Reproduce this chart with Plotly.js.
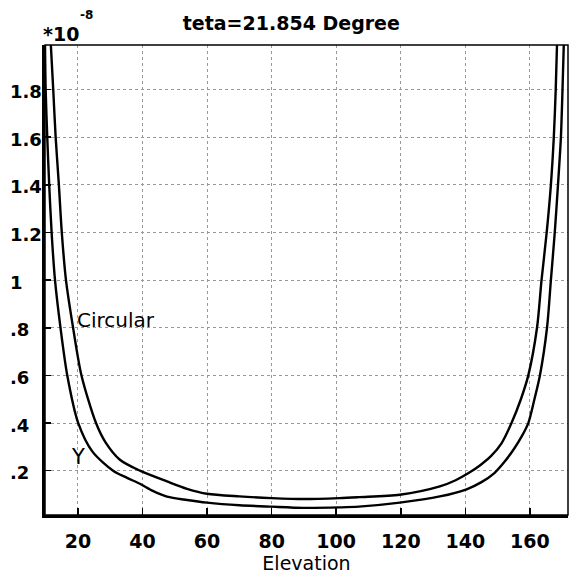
<!DOCTYPE html>
<html>
<head>
<meta charset="utf-8">
<script src="https://cdn.plot.ly/plotly-3.0.1.min.js"></script>
<style>html,body{margin:0;padding:0;background:#fff;}</style>
</head>
<body>
<div id="chart" style="width:569px;height:576px;"></div>
<script>
// Data (values in units of 1e-8)
const circularX = [11.6, 12.35, 13.1, 14.1, 15.0, 16.3, 18.5, 21.1, 25.6, 28.5, 33.0, 39.2, 47.6, 53.8, 60, 70, 80, 90, 101, 107, 119.7, 132.1, 137, 141, 144.5, 148, 151.2, 154.3, 157.2, 159.5, 162.2, 163.6, 165.2, 166.5, 167.4, 168.0, 168.4];
const circularY = [1.99, 1.8, 1.6, 1.4, 1.2, 1.0, 0.8, 0.6, 0.4, 0.32, 0.246, 0.2, 0.155, 0.124, 0.103, 0.092, 0.085, 0.081, 0.085, 0.089, 0.099, 0.134, 0.16, 0.19, 0.222, 0.262, 0.315, 0.4, 0.5, 0.6, 0.8, 1.0, 1.2, 1.4, 1.6, 1.8, 1.99];
const yPolX = [9.8, 10.0, 10.5, 11.1, 11.85, 12.9, 14.6, 16.7, 20.1, 24.5, 30.9, 35.2, 39.2, 43.2, 47.6, 53.8, 60, 70, 80, 90, 101, 107, 119.7, 132.1, 140.4, 145, 149, 152, 155, 157.5, 159.5, 161.4, 163.1, 165.3, 166.5, 167.7, 168.7, 169.6, 170.1, 170.5];
const yPolY = [1.99, 1.8, 1.6, 1.4, 1.2, 1.0, 0.8, 0.6, 0.4, 0.28, 0.2, 0.17, 0.145, 0.115, 0.091, 0.077, 0.066, 0.055, 0.049, 0.044, 0.046, 0.049, 0.066, 0.092, 0.122, 0.152, 0.19, 0.235, 0.29, 0.345, 0.4, 0.5, 0.6, 0.8, 1.0, 1.2, 1.4, 1.6, 1.8, 1.99];

const xTickVals = [20, 40, 60, 80, 100, 120, 140, 160];
const xTickText = ['20', '40', '60', '80', '100', '120', '140', '160'];
const yTickVals = [0.2, 0.4, 0.6, 0.8, 1.0, 1.2, 1.4, 1.6, 1.8];
const yTickText = ['.2', '.4', '.6', '.8', '1', '1.2', '1.4', '1.6', '1.8'];

const curveLabels = ['Circular', 'Y'];
const curveLabelX = [19.2, 20.0];
const curveLabelY = [0.833, 0.259];

const FONT = 'DejaVu Sans';
const lineStyle = {color: '#000', width: 2.4, shape: 'spline', smoothing: 0.8};

const traces = [
  {x: circularX, y: circularY, type: 'scatter', mode: 'lines', name: 'Circular', line: lineStyle, hoverinfo: 'skip'},
  {x: yPolX, y: yPolY, type: 'scatter', mode: 'lines', name: 'Y', line: lineStyle, hoverinfo: 'skip'}
];

const L = 45, R = 1, T = 45, B = 61;
const plotW = 569 - L - R;
const plotH = 576 - T - B;

const annotations = [];
yTickVals.forEach((v, i) => {
  annotations.push({
    xref: 'paper', x: (8 - L) / plotW, xanchor: 'left',
    yref: 'y', y: v, yanchor: 'middle', yshift: -2,
    text: yTickText[i], showarrow: false,
    font: {family: FONT, size: 18, weight: 'bold', color: '#000'}
  });
});
curveLabels.forEach((t, i) => {
  annotations.push({
    xref: 'x', x: curveLabelX[i], xanchor: i === 0 ? 'left' : 'center',
    yref: 'y', y: curveLabelY[i], yanchor: 'middle',
    text: t, showarrow: false,
    font: {family: FONT, size: i === 0 ? 20 : 21, color: '#000'}
  });
});
// axis multiplier "*10^-8"
annotations.push({
  xref: 'paper', x: (41 - L) / plotW, xanchor: 'left',
  yref: 'paper', y: 1.0, yanchor: 'bottom', yshift: -2,
  text: '*10', showarrow: false,
  font: {family: FONT, size: 19, weight: 'bold', color: '#000'}
});
annotations.push({
  xref: 'paper', x: (78 - L) / plotW, xanchor: 'left',
  yref: 'paper', y: 1 + (45 - 15) / plotH, yanchor: 'middle',
  text: '-8', showarrow: false,
  font: {family: FONT, size: 12, weight: 'bold', color: '#000'}
});

const layout = {
  width: 569, height: 576,
  margin: {l: L, r: R, t: T, b: B},
  paper_bgcolor: '#fff', plot_bgcolor: '#fff',
  showlegend: false,
  title: {
    text: 'teta=21.854 Degree',
    font: {family: FONT, size: 19, weight: 'bold', color: '#000'},
    xref: 'container', x: 0.512, xanchor: 'center',
    yref: 'container', y: 1 - 23 / 576, yanchor: 'middle'
  },
  xaxis: {
    range: [9.8, 171.8],
    tickmode: 'array', tickvals: xTickVals, ticktext: xTickText,
    ticks: 'inside', ticklen: 7, tickwidth: 1.5, tickcolor: '#000',
    showline: true, linewidth: 3, linecolor: '#000',
    showgrid: true, gridcolor: '#999999', griddash: 'dot', gridwidth: 1,
    zeroline: false,
    tickfont: {family: FONT, size: 19, weight: 'bold', color: '#000'},
    ticklabelstandoff: 7,
    title: {text: 'Elevation', font: {family: FONT, size: 19, color: '#000'}, standoff: 2}
  },
  yaxis: {
    range: [0.014, 1.987],
    tickmode: 'array', tickvals: yTickVals,
    showticklabels: false,
    ticks: 'inside', ticklen: 6, tickwidth: 1.5, tickcolor: '#000',
    showline: true, linewidth: 3, linecolor: '#000',
    showgrid: true, gridcolor: '#999999', griddash: 'dot', gridwidth: 1,
    zeroline: false
  },
  shapes: [{
    type: 'rect', xref: 'paper', yref: 'paper', x0: 0, x1: 1, y0: 0, y1: 1,
    line: {color: '#000', width: 1.5}, layer: 'above'
  }],
  annotations: annotations
};

Plotly.newPlot('chart', traces, layout, {staticPlot: true, displayModeBar: false});
</script>
</body>
</html>
